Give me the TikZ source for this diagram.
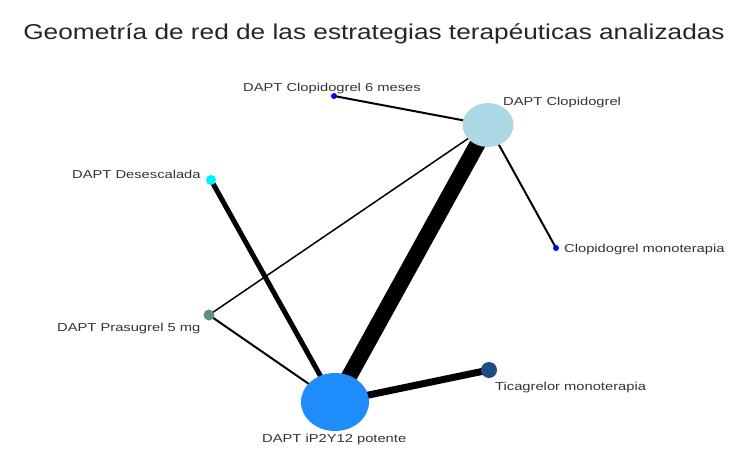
\documentclass[tikz,border=0pt]{standalone}
\usepackage{fontspec}
\setmainfont{Liberation Sans}
\usepackage{graphicx}
\usetikzlibrary{backgrounds,shapes.geometric}
\definecolor{cLight}{HTML}{ADD8E6}
\definecolor{cPot}{HTML}{1E8CFA}
\definecolor{cBlue}{HTML}{0000FF}
\definecolor{cCyan}{HTML}{00F0FF}
\definecolor{cPras}{HTML}{5E9080}
\definecolor{cTica}{HTML}{1D4E7F}
\newcommand{\lbl}[1]{\scalebox{1.28}[1]{#1}}
\begin{document}
\begin{tikzpicture}[x=1pt,y=-1pt,
  vert/.style={ellipse, inner sep=0pt, draw=none},
  dotnode/.style={circle, inner sep=0pt, draw=none},
  labnode/.style={inner sep=0pt, font=\fontsize{11.5}{13}\selectfont, text=black!80},
  edge/.style={draw=black, line cap=butt}]
\useasboundingbox (0,0) rectangle (750,469);
\node[font=\fontsize{21.5}{24}\selectfont, text=black!85] (title) at (374,34) {\scalebox{1.22}[1]{Geometría de red de las estrategias terapéuticas analizadas}};
% vertices
\node[vert, fill=cLight, minimum width=51pt, minimum height=44pt] (clop) at (488,125) {};
\node[vert, fill=cPot, minimum width=68pt, minimum height=58pt] (pot) at (335,402) {};
\node[dotnode, fill=cBlue, minimum size=6pt] (clop6) at (334,96) {};
\node[dotnode, fill=cBlue, minimum size=6pt] (clopmono) at (556,248) {};
\node[dotnode, fill=cCyan, minimum size=10pt] (des) at (211,180) {};
\node[dotnode, fill=cPras, minimum size=11pt] (pras) at (209,315) {};
\node[dotnode, fill=cTica, minimum size=16pt] (tica) at (489,370) {};
% edges
\begin{scope}[on background layer]
\draw[edge, line width=2pt] (clop6.center) -- (clop.center);
\draw[edge, line width=2pt] (clop.center) -- (clopmono.center);
\draw[edge, line width=1.5pt] (clop.center) -- (pras.center);
\draw[edge, line width=16pt] (clop.center) -- (pot.center);
\draw[edge, line width=5pt] (des.center) -- (pot.center);
\draw[edge, line width=2pt] (pras.center) -- (pot.center);
\draw[edge, line width=7pt] (pot.center) -- (tica.center);
\end{scope}
% labels
\node[labnode, anchor=west] (lclop6) at (243,89) {\lbl{DAPT Clopidogrel 6 meses}};
\node[labnode, anchor=west] (lclop) at (503,103) {\lbl{DAPT Clopidogrel}};
\node[labnode, anchor=west] (ldes) at (72,174) {\lbl{DAPT Desescalada}};
\node[labnode, anchor=west] (lclopmono) at (564,250) {\lbl{Clopidogrel monoterapia}};
\node[labnode, anchor=west] (lpras) at (57,329) {\lbl{DAPT Prasugrel 5 mg}};
\node[labnode, anchor=west] (ltica) at (495,388) {\lbl{Ticagrelor monoterapia}};
\node[labnode, anchor=west] (lpot) at (262,440) {\lbl{DAPT iP2Y12 potente}};
\end{tikzpicture}
\end{document}
